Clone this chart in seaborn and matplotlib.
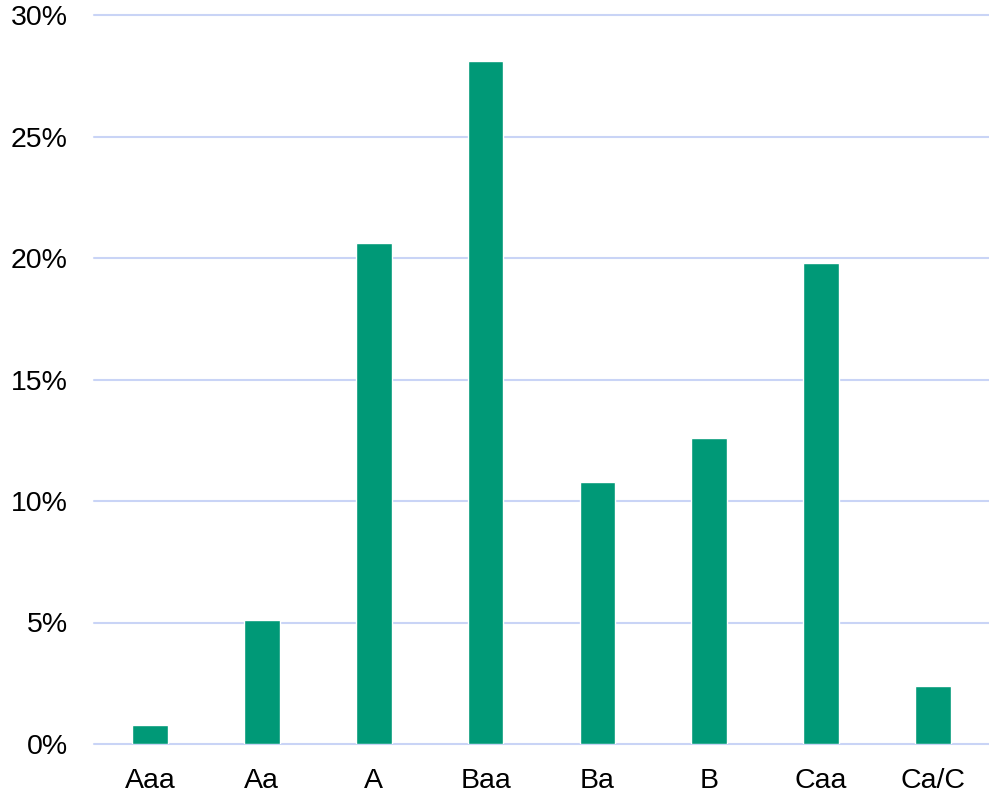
import matplotlib
matplotlib.use("Agg")
import matplotlib.pyplot as plt
import seaborn as sns
import pandas as pd
from matplotlib.ticker import FuncFormatter

categories = ["Aaa", "Aa", "A", "Baa", "Ba", "B", "Caa", "Ca/C"]
values = [0.8, 5.1, 20.6, 28.1, 10.8, 12.6, 19.8, 2.4]
yticks = [0, 5, 10, 15, 20, 25, 30]

sns.set_theme(style="white")
plt.rcParams['font.family'] = ['Liberation Sans', 'DejaVu Sans']

df = pd.DataFrame({"cat": categories, "val": values})

fig = plt.figure(figsize=(9.89, 7.93), dpi=100)
ax = fig.add_axes([94/989, 1 - 744/793, (989 - 94)/989, (744 - 15)/793])

sns.barplot(data=df, x="cat", y="val", color="#009977", saturation=1,
            width=0.32, ax=ax, zorder=3)

ax.set_xlim(-0.5, len(categories) - 0.5)
ax.set_ylim(0, 30)
ax.set_yticks(yticks)
ax.yaxis.set_major_formatter(FuncFormatter(lambda v, p: f"{int(v)}%"))
ax.grid(axis="y", color="#c9d4f6", linewidth=1.5, zorder=0)
for gl in ax.get_ygridlines():
    gl.set_clip_on(False)
ax.set_axisbelow(True)
for s in ax.spines.values():
    s.set_visible(False)
ax.set_xlabel("")
ax.set_ylabel("")
ax.tick_params(axis="y", length=0, pad=19, labelsize=20.5, labelcolor="black")
ax.tick_params(axis="x", length=0, pad=17, labelsize=20.5, labelcolor="black")

fig.savefig("out.png", dpi=100)
